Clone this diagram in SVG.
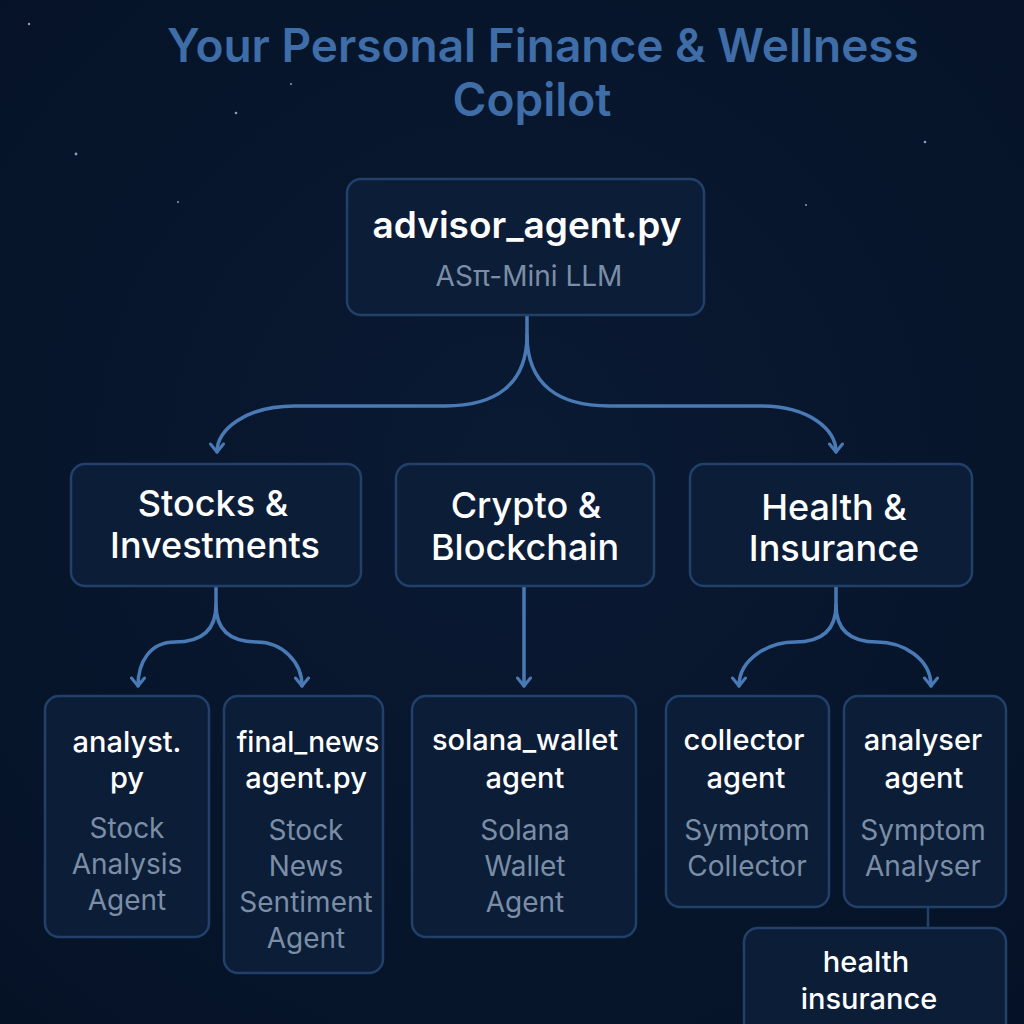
<svg xmlns="http://www.w3.org/2000/svg" width="1024" height="1024" viewBox="0 0 1024 1024">
<defs>
<radialGradient id="bg" cx="50%" cy="45%" r="75%">
<stop offset="0" stop-color="#0a1a33"/>
<stop offset="1" stop-color="#051226"/>
</radialGradient>
<marker id="arr" viewBox="0 0 16 16" refX="14" refY="8" markerWidth="16" markerHeight="16" markerUnits="userSpaceOnUse" orient="auto">
<path d="M6,1.5 L14,8 L6,14.5" fill="none" stroke="#4a7ab5" stroke-width="3" stroke-linecap="round" stroke-linejoin="round"/>
</marker>
<style>
.box{fill:#0c1d38;stroke:#21406a;stroke-width:2.5}
.t{font-family:Inter,"Noto Sans","Liberation Sans",sans-serif;text-anchor:middle}
.h{fill:#ffffff;font-weight:500}
.hb{fill:#ffffff;font-weight:600}
.s{fill:#7b8ea6;font-weight:400}
.c{fill:none;stroke:#4a7ab5;stroke-width:3.5;stroke-linecap:round}
.star{fill:#8aa0bd}
</style>
</defs>
<rect width="1024" height="1024" fill="url(#bg)"/>
<g id="stars">
<circle class="star" cx="29" cy="24" r="1.2"/>
<circle class="star" cx="291" cy="84" r="1"/>
<circle class="star" cx="236" cy="113" r="1.3"/>
<circle class="star" cx="76" cy="154" r="1.4"/>
<circle class="star" cx="925" cy="142" r="1.3"/>
<circle class="star" cx="806" cy="205" r="1"/>
<circle class="star" cx="178" cy="202" r="1"/>
</g>
<g id="title">
<text class="t" x="543" y="62" font-size="46" font-weight="600" fill="#3e6da8">Your Personal Finance &amp; Wellness</text>
<text class="t" x="532" y="116" font-size="46" font-weight="600" fill="#3e6da8">Copilot</text>
</g>
<g id="connectors">
<path class="c" d="M527,316 L527,335 C527,385 495,406 445,406 L295,406 C245,406 217,430 217,452" marker-end="url(#arr)"/>
<path class="c" d="M527,335 C527,385 559,406 609,406 L760,406 C810,406 836,430 836,452" marker-end="url(#arr)"/>
<path class="c" d="M216,587 L216,605 C216,632 200,642 175,642 C150,642 138,662 138,686" marker-end="url(#arr)"/>
<path class="c" d="M216,605 C216,632 232,642 257,642 C282,642 302,662 302,686" marker-end="url(#arr)"/>
<path class="c" d="M524,587 L524,686" marker-end="url(#arr)"/>
<path class="c" d="M836,587 L836,605 C836,632 820,642 795,642 C770,642 739,658 739,686" marker-end="url(#arr)"/>
<path class="c" d="M836,605 C836,632 852,642 877,642 C902,642 931,658 931,686" marker-end="url(#arr)"/>
<path d="M928,908 L928,928" fill="none" stroke="#21406a" stroke-width="2.5"/>
</g>
<g id="advisor">
<rect class="box" x="347" y="179" width="357" height="136" rx="14"/>
<text class="t hb" x="527" y="238" font-size="37">advisor_agent.py</text>
<text class="t s" x="529" y="286" font-size="28">ASπ-Mini LLM</text>
</g>
<g id="stocks">
<rect class="box" x="71" y="464" width="290" height="122" rx="14"/>
<text class="t h" x="213" y="516" font-size="36">Stocks &amp;</text>
<text class="t h" x="215" y="558" font-size="36">Investments</text>
</g>
<g id="crypto">
<rect class="box" x="396" y="464" width="258" height="122" rx="14"/>
<text class="t h" x="526" y="518" font-size="36">Crypto &amp;</text>
<text class="t h" x="525" y="560" font-size="36">Blockchain</text>
</g>
<g id="health">
<rect class="box" x="690" y="464" width="282" height="122" rx="14"/>
<text class="t h" x="834" y="520" font-size="36">Health &amp;</text>
<text class="t h" x="834" y="561" font-size="36">Insurance</text>
</g>
<g id="analyst">
<rect class="box" x="45" y="696" width="164" height="241" rx="14"/>
<text class="t h" x="127" y="752" font-size="29">analyst.</text>
<text class="t h" x="127" y="788" font-size="29">py</text>
<text class="t s" x="127" y="838" font-size="28">Stock</text>
<text class="t s" x="127" y="874" font-size="28">Analysis</text>
<text class="t s" x="127" y="910" font-size="28">Agent</text>
</g>
<g id="finalnews">
<rect class="box" x="224" y="696" width="159" height="277" rx="14"/>
<text class="t h" x="308" y="752" font-size="28">final_news</text>
<text class="t h" x="306" y="788" font-size="29">agent.py</text>
<text class="t s" x="306" y="840" font-size="28">Stock</text>
<text class="t s" x="306" y="876" font-size="28">News</text>
<text class="t s" x="306" y="912" font-size="28">Sentiment</text>
<text class="t s" x="306" y="948" font-size="28">Agent</text>
</g>
<g id="solana">
<rect class="box" x="412" y="696" width="224" height="241" rx="14"/>
<text class="t h" x="525" y="750" font-size="29">solana_wallet</text>
<text class="t h" x="525" y="788" font-size="29">agent</text>
<text class="t s" x="525" y="840" font-size="28">Solana</text>
<text class="t s" x="525" y="876" font-size="28">Wallet</text>
<text class="t s" x="525" y="912" font-size="28">Agent</text>
</g>
<g id="collector">
<rect class="box" x="666" y="696" width="163" height="211" rx="14"/>
<text class="t h" x="744" y="750" font-size="29">collector</text>
<text class="t h" x="746" y="788" font-size="29">agent</text>
<text class="t s" x="747" y="840" font-size="28">Symptom</text>
<text class="t s" x="747" y="876" font-size="28">Collector</text>
</g>
<g id="analyser">
<rect class="box" x="844" y="696" width="162" height="211" rx="14"/>
<text class="t h" x="923" y="750" font-size="29">analyser</text>
<text class="t h" x="924" y="788" font-size="29">agent</text>
<text class="t s" x="923" y="840" font-size="28">Symptom</text>
<text class="t s" x="923" y="876" font-size="28">Analyser</text>
</g>
<g id="healthins">
<rect class="box" x="744" y="928" width="262" height="120" rx="14"/>
<text class="t h" x="866" y="972" font-size="29">health</text>
<text class="t h" x="869" y="1009" font-size="29">insurance</text>
</g>
</svg>
